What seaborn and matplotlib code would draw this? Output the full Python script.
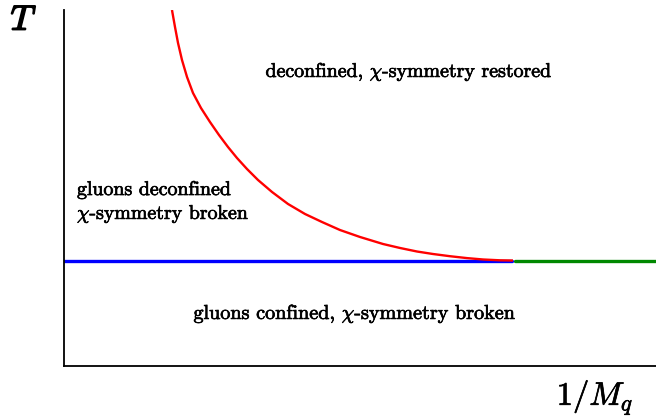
import pandas as pd
import matplotlib
matplotlib.use("Agg")
import matplotlib.pyplot as plt
import matplotlib.patheffects as pe
import seaborn as sns

# =========================
# dados
# =========================
curva_x = [0.1824, 0.1875, 0.1926, 0.1993, 0.2078, 0.2179, 0.2314, 0.2466,
           0.2618, 0.2770, 0.2922, 0.3091, 0.3277, 0.3514, 0.3784, 0.4071,
           0.4358, 0.4662, 0.5000, 0.5389, 0.5676, 0.5963, 0.6233, 0.6520,
           0.6807, 0.7078, 0.7365, 0.7584]
curva_y = [1.0000, 0.9522, 0.9073, 0.8596, 0.8118, 0.7669, 0.7247, 0.6854,
           0.6489, 0.6152, 0.5843, 0.5534, 0.5225, 0.4888, 0.4551, 0.4270,
           0.4045, 0.3820, 0.3624, 0.3427, 0.3315, 0.3216, 0.3146, 0.3084,
           0.3031, 0.2992, 0.2969, 0.2963]

azul_x = [0.0, 0.757]
azul_y = [0.2963, 0.2963]

verde_x = [0.762, 1.0]
verde_y = [0.2963, 0.2963]

# =========================
# estilo
# =========================
sns.set_style("white")
plt.rcParams["font.family"] = ["cmr10", "DejaVu Serif"]
plt.rcParams["mathtext.fontset"] = "cm"
plt.rcParams["axes.formatter.use_mathtext"] = True

fig = plt.figure(figsize=(6.56, 4.19), dpi=100)
ax = fig.add_axes([64 / 656, 1 - 366 / 419, 1 - 64 / 656, 356 / 419])

df_curva = pd.DataFrame({"x": curva_x, "y": curva_y})
df_azul = pd.DataFrame({"x": azul_x, "y": azul_y})
df_verde = pd.DataFrame({"x": verde_x, "y": verde_y})

sns.lineplot(data=df_azul, x="x", y="y", color="blue", linewidth=2.4, ax=ax, sort=False)
sns.lineplot(data=df_verde, x="x", y="y", color="#008800", linewidth=2.4, ax=ax, sort=False)
sns.lineplot(data=df_curva, x="x", y="y", color="red", linewidth=1.7, ax=ax, sort=False,
             solid_joinstyle="round", solid_capstyle="butt")

ax.set_xlim(0, 1)
ax.set_ylim(0, 1)
ax.set_xticks([])
ax.set_yticks([])
ax.set_xlabel("")
ax.set_ylabel("")
for lado in ["top", "right"]:
    ax.spines[lado].set_visible(False)
for lado in ["left", "bottom"]:
    ax.spines[lado].set_color("black")
    ax.spines[lado].set_linewidth(1.3)

# =========================
# textos
# =========================
grosso = [pe.withStroke(linewidth=0.5, foreground="black")]
grosso_T = [pe.withStroke(linewidth=1.2, foreground="black")]

fig.text(24 / 656, 1 - 21 / 419, r"$T$", fontsize=25, ha="center", va="center",
         color="black", path_effects=grosso_T)
fig.text(595 / 656, 1 - 397 / 419, r"$1/M_q$", fontsize=23.5, ha="center", va="center",
         color="black", path_effects=grosso)

fig.text(409 / 656, 1 - 72 / 419, r"deconfined, $\chi$-symmetry restored",
         fontsize=14.3, ha="center", va="center", color="black", path_effects=grosso)
fig.text(77 / 656, 1 - 190 / 419, "gluons deconfined",
         fontsize=14.3, ha="left", va="center", color="black", path_effects=grosso)
fig.text(77 / 656, 1 - 214 / 419, r"$\chi$-symmetry broken",
         fontsize=14.3, ha="left", va="center", color="black", path_effects=grosso)
fig.text(355 / 656, 1 - 314 / 419, r"gluons confined, $\chi$-symmetry broken",
         fontsize=14.5, ha="center", va="center", color="black", path_effects=grosso)

plt.savefig("out.png", dpi=100)
